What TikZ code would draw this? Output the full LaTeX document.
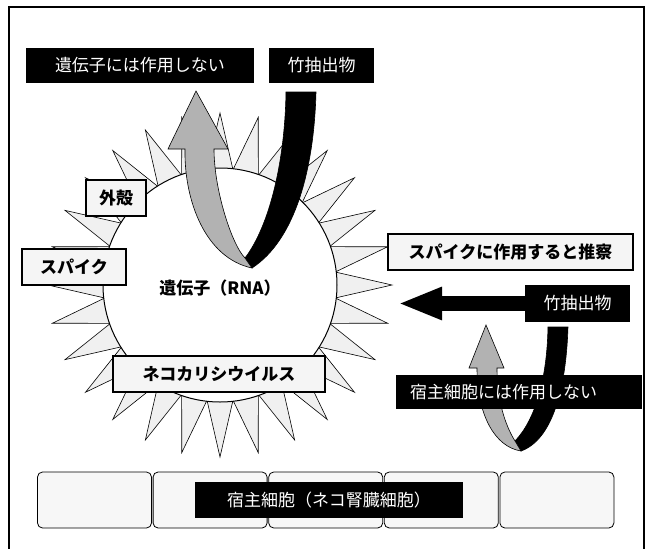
\documentclass[tikz,border=0pt]{standalone}
\usepackage{fontspec}
\setmainfont{Noto Sans CJK JP}
\usetikzlibrary{arrows.meta,positioning}

\tikzset{
    blackbox/.style={fill=black, text=white, inner sep=0pt, font=\fontsize{17}{20}\selectfont},
    labelbox/.style={draw, line width=1.6pt, fill=gray!8, inner sep=0pt, font=\fontsize{17}{20}\selectfont\bfseries},
    plain/.style={inner sep=0pt, font=\fontsize{17}{20}\selectfont\bfseries},
    cell/.style={draw, line width=0.8pt, rounded corners=5pt, fill=gray!6, minimum width=114pt, minimum height=56pt},
    spike/.style={draw, line width=0.6pt, fill=gray!12},
    bigarrow/.style={line width=15pt, -{Triangle[length=44pt,width=30pt]}}
}

\begin{document}
\begin{tikzpicture}[x=1pt, y=-1pt]
            \useasboundingbox (0,0) rectangle (649,549);

            % Draw the frame
            \draw[line width=1.2pt] (9,549) -- (9,7) -- (644,7) -- (644,549);

            % Draw the spikes round the virus
            \coordinate (core) at (220,285);
            \foreach \k in {0,1,...,27} {
                    \pgfmathsetmacro{\a}{\k*360/28}
                    \draw[spike] ([shift={(\a-6.43:116)}]core) -- ([shift={(\a:172)}]core)
                        -- ([shift={(\a+6.43:116)}]core) -- cycle;
                }
            \node[circle, draw, line width=1pt, fill=white, minimum size=234pt, inner sep=0pt] (virus) at (core) {};
            \node[plain] (rna) at (220,288) {遺伝子（RNA）};

            % Draw the big turning arrow
            \filldraw[fill=black, line width=0.6pt] (286,92) -- (316,92) .. controls (314,170) and (295,240) .. (252,268)
                -- (245,258) .. controls (270,225) and (285,160) .. (286,92) -- cycle;
            \filldraw[fill=gray!60, line width=0.6pt] (185,149) .. controls (184,200) and (205,258) .. (252,268)
                -- (245,258) .. controls (232,245) and (214,190) .. (214,149)
                -- (228,149) -- (196,91) -- (168,149) -- cycle;

            % Add the labels at the top
            \node[blackbox, minimum width=228pt, minimum height=35pt] (nogene) at (140,65.5) {遺伝子には作用しない};
            \node[blackbox, minimum width=105pt, minimum height=35pt] (bamboo) at (321.5,65.5) {竹抽出物};

            % Add labels to the virus
            \node[labelbox, minimum width=60pt, minimum height=36pt] (shell) at (116,198) {外殻};
            \node[labelbox, minimum width=104pt, minimum height=36pt] (spike) at (74,267) {スパイク};
            \node[labelbox, minimum width=212pt, minimum height=36pt] (calici) at (219,374) {ネコカリシウイルス};
            \node[labelbox, minimum width=245pt, minimum height=36pt] (guess) at (510.5,252) {スパイクに作用すると推察};

            % Draw the arrow
            \node[blackbox, minimum width=105pt, minimum height=37pt] (extract) at (577.5,303.5) {竹抽出物};
            \coordinate (hit) at (398,303.5);
            \draw[bigarrow] (extract.west) -- (hit);

            % Draw the small turning arrow
            \filldraw[fill=black, line width=0.6pt] (548,327) -- (568,327) .. controls (566,390) and (552,440) .. (521,451)
                -- (515,441) .. controls (535,420) and (547,380) .. (548,327) -- cycle;
            \filldraw[fill=gray!60, line width=0.6pt] (477,368) .. controls (477,415) and (495,447) .. (521,451)
                -- (515,441) .. controls (505,425) and (497,400) .. (497,368)
                -- (504,368) -- (486,325) -- (469,368) -- cycle;
            \node[blackbox, text width=218pt, inner xsep=14pt, align=left, minimum height=34pt] (nohost) at (519,392) {宿主細胞には作用しない};

            % Define the host cells
            \foreach \i in {0,1,...,4} {
                    \node[cell] (cell\i) at ({94.5+115.6*\i},500) {};
                }
            \node[blackbox, minimum width=268pt, minimum height=36pt] (host) at (329,500) {宿主細胞（ネコ腎臓細胞）};

        \end{tikzpicture}
\end{document}
